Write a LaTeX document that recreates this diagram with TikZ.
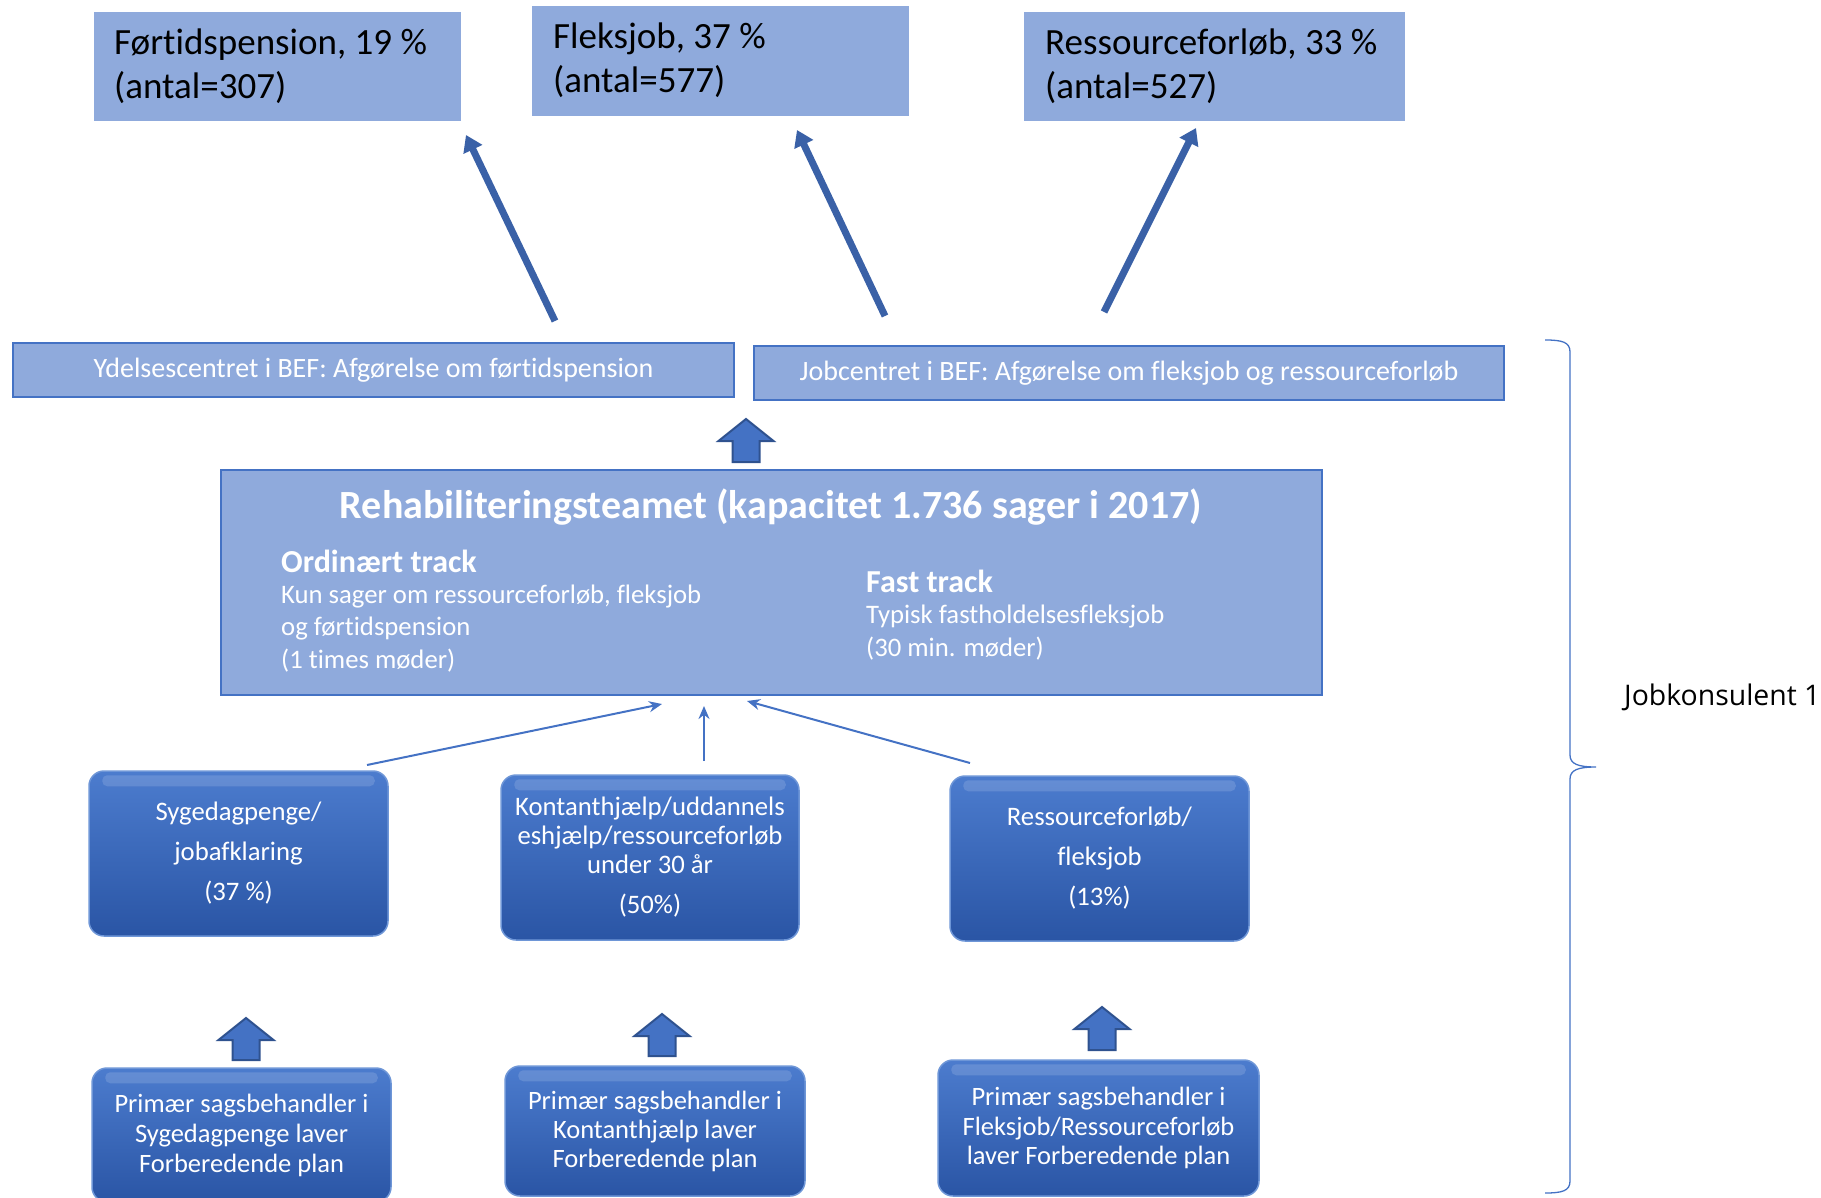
\documentclass[tikz,border=0pt]{standalone}
\usepackage{fontspec}
\setmainfont{Carlito}[RawFeature={-liga;-clig;-dlig;-calt}]
\newfontfamily\jkfont{Open Sans}
\usetikzlibrary{arrows.meta,calc}
\definecolor{lightbl}{RGB}{143,170,220}
\definecolor{midbl}{RGB}{68,114,196}
\definecolor{darkbl}{RGB}{47,82,143}
\definecolor{topbl}{RGB}{76,124,206}
\definecolor{botbl}{RGB}{42,85,165}
\definecolor{edgebl}{RGB}{110,150,215}
\tikzset{
  topbox/.style={fill=lightbl, draw=none, anchor=center},
  toptext/.style={align=left, anchor=west, inner sep=0pt, font=\fontsize{37}{44}\selectfont, text=black},
  decbox/.style={fill=lightbl, draw=midbl, line width=2pt, text=white, anchor=center,
     font=\fontsize{28}{32}\selectfont},
  rehabbox/.style={fill=lightbl, draw=midbl, line width=2pt, anchor=center},
  rbox/.style={rounded corners=15pt, top color=topbl, bottom color=botbl, draw=edgebl,
     line width=1.5pt, text=white, align=center, anchor=center},
  wtext/.style={text=white, inner sep=0pt, anchor=west},
  thickarr/.style={draw=midbl!85!black, line width=7pt, -{Triangle[length=16pt,width=20pt]}},
  thinarr/.style={draw=midbl, line width=2pt, -{Stealth[length=13pt,width=11pt]}},
  blk/.style={fill=midbl, draw=darkbl, line width=2pt, line join=miter},
}
\newcommand\blkarrow[3]{% center x, bottom y, top y
  \path[blk] ({#1-13.5},#2) -- ({#1-13.5},{#3+22}) -- ({#1-27.5},{#3+22}) -- (#1,#3)
    -- ({#1+27.5},{#3+22}) -- ({#1+13.5},{#3+22}) -- ({#1+13.5},#2) -- cycle;}
\begin{document}
\begin{tikzpicture}[x=1pt,y=-1pt]
\useasboundingbox (0,0) rectangle (1821,1198);
\clip (0,0) rectangle (1821,1198);

% top result boxes
\node[topbox, minimum width=367pt, minimum height=109pt] (fp) at (277.5,66.5) {};
\node[toptext] (fpt) at (114,66) {Førtidspension, 19 \%\\(antal=307)};
\node[topbox, minimum width=377pt, minimum height=110pt] (fj) at (720.5,61) {};
\node[toptext] (fjt) at (553,60) {Fleksjob, 37 \%\\(antal=577)};
\node[topbox, minimum width=381pt, minimum height=109pt] (rf) at (1214.5,66.5) {};
\node[toptext] (rft) at (1045,66) {Ressourceforløb, 33 \%\\(antal=527)};

% decision boxes
\node[decbox, minimum width=721pt, minimum height=54pt] (yc) at (373.5,370)
  {Ydelsescentret i BEF: Afgørelse om førtidspension};
\node[decbox, minimum width=750pt, minimum height=54pt] (jc) at (1129,373)
  {Jobcentret i BEF: Afgørelse om fleksjob og ressourceforløb};

% thick arrows to results
\coordinate (a1s) at (555,321); \coordinate (a1e) at (466,135);
\coordinate (a2s) at (885,316); \coordinate (a2e) at (797,130);
\coordinate (a3s) at (1104,312); \coordinate (a3e) at (1196,128);
\draw[thickarr] (a1s) -- (a1e);
\draw[thickarr] (a2s) -- (a2e);
\draw[thickarr] (a3s) -- (a3e);

% rehab team box
\node[rehabbox, minimum width=1101pt, minimum height=225pt] (rt) at (771.5,582.5) {};
\node[text=white, inner sep=0pt, font=\fontsize{40}{44}\selectfont\bfseries] (rtt) at (771,507)
  {Rehabiliteringsteamet (kapacitet 1.736 sager i 2017)};
\node[wtext, font=\fontsize{32}{36}\selectfont\bfseries] (ot) at (281,561) {Ordinært track};
\node[wtext, font=\fontsize{26.7}{30}\selectfont] (o1) at (281,597) {Kun sager om ressourceforløb, fleksjob};
\node[wtext, font=\fontsize{26.7}{30}\selectfont] (o2) at (281,629) {og førtidspension};
\node[wtext, font=\fontsize{26.7}{30}\selectfont] (o3) at (281,661) {(1 times møder)};
\node[wtext, font=\fontsize{32}{36}\selectfont\bfseries] (ft) at (866,581) {Fast track};
\node[wtext, font=\fontsize{26.7}{30}\selectfont] (f1) at (866,617) {Typisk fastholdelsesfleksjob};
\node[wtext, font=\fontsize{26.7}{30}\selectfont] (f2) at (866,649) {(30 min. møder)};

% block arrow rehab -> decisions
\blkarrow{746}{462}{419}

% middle rounded boxes
\node[rbox, minimum width=299pt, minimum height=165pt, font=\fontsize{26.7}{40}\selectfont] (sd) at (238.5,853.5)
  {Sygedagpenge/\\jobafklaring\\(37 \%)};
\node[rbox, minimum width=298pt, minimum height=165pt, font=\fontsize{26.7}{29}\selectfont] (kh) at (650,857.5)
  {Kontanthjælp/uddannels\\eshjælp/ressourceforløb\\under 30 år\\[11pt](50\%)};
\node[rbox, minimum width=299pt, minimum height=165pt, font=\fontsize{26.7}{40}\selectfont] (rs) at (1099.5,858.5)
  {Ressourceforløb/\\fleksjob\\(13\%)};

% highlight bands on rounded boxes
\foreach \n in {sd,kh,rs}{
  \fill[white, opacity=0.14, rounded corners=5pt] ($(\n.north west)+(14,5)$) rectangle ($(\n.north east)+(-14,16)$);
}

% thin arrows into rehab team
\coordinate (t1s) at (367,765); \coordinate (t1e) at (662,704);
\coordinate (t2s) at (704,761); \coordinate (t2e) at (704,706);
\coordinate (t3s) at (970,763); \coordinate (t3e) at (747,701);
\draw[thinarr] (t1s) -- (t1e);
\draw[thinarr] (t2s) -- (t2e);
\draw[thinarr] (t3s) -- (t3e);

% bottom rounded boxes
\node[rbox, minimum width=299pt, minimum height=134pt, font=\fontsize{26.5}{30}\selectfont] (ps) at (241.5,1135)
  {Primær sagsbehandler i\\Sygedagpenge laver\\Forberedende plan};
\node[rbox, minimum width=300pt, minimum height=130pt, font=\fontsize{26.5}{29}\selectfont] (pk) at (655,1131)
  {Primær sagsbehandler i\\Kontanthjælp laver\\Forberedende plan};
\node[rbox, minimum width=321pt, minimum height=136pt, font=\fontsize{26.5}{29.5}\selectfont] (pf) at (1098.5,1128)
  {Primær sagsbehandler i\\Fleksjob/Ressourceforløb\\laver Forberedende plan};
\foreach \n in {ps,pk,pf}{
  \fill[white, opacity=0.14, rounded corners=5pt] ($(\n.north west)+(14,5)$) rectangle ($(\n.north east)+(-14,16)$);
}

% block arrows bottom
\blkarrow{246}{1060}{1018}
\blkarrow{662}{1056}{1014}
\blkarrow{1102}{1050}{1007}

% brace
\coordinate (bt) at (1545,340);
\coordinate (bm) at (1596,767);
\coordinate (bb) at (1545,1193);
\draw[midbl, line width=1.3pt] (bt) .. controls (1562,340) and (1570,342) .. (1570,352)
  -- (1570,755) .. controls (1570,764) and (1578,767) .. (bm)
  .. controls (1578,767) and (1570,770) .. (1570,779)
  -- (1570,1181) .. controls (1570,1191) and (1562,1193) .. (bb);
\node[anchor=west, inner sep=0pt, font=\jkfont\fontsize{28.4}{32}\selectfont] (jk) at (1624,697) {Jobkonsulent 1};
\end{tikzpicture}
\end{document}
